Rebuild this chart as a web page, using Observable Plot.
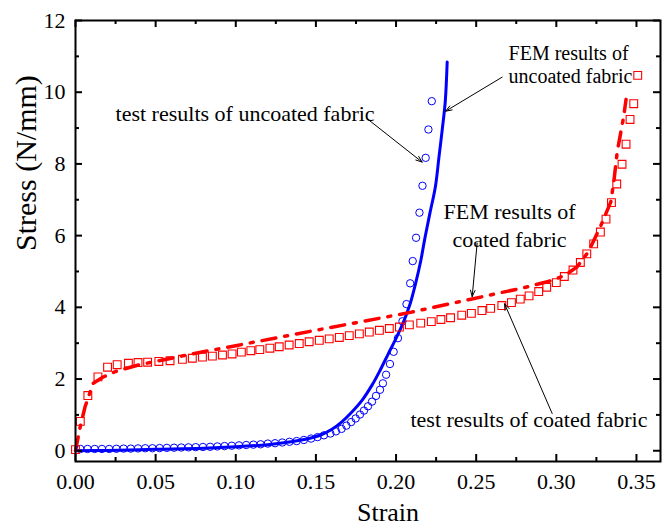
<!DOCTYPE html>
<html>
<head>
<meta charset="utf-8">
<script src="https://cdn.jsdelivr.net/npm/d3@7"></script>
<script src="https://cdn.jsdelivr.net/npm/@observablehq/plot@0.6"></script>
<style>
  html, body { margin: 0; padding: 0; background: #fff; }
  #chart { width: 665px; height: 527px; }
</style>
</head>
<body>
<div id="chart"></div>
<script>
// ---- data ----
const xTicks = [0, 0.05, 0.10, 0.15, 0.20, 0.25, 0.30, 0.35];
const xMinorTicks = [0.025, 0.075, 0.125, 0.175, 0.225, 0.275, 0.325];
const yTicks = [0, 2, 4, 6, 8, 10, 12];
const yMinorTicks = [1, 3, 5, 7, 9, 11];

// test results of uncoated fabric (strain, stress)
const testUncoated = [
  [0.003,0.05],[0.0075,0.05],[0.012,0.05],[0.0165,0.05],[0.021,0.05],[0.0255,0.055],
  [0.030,0.06],[0.0345,0.06],[0.039,0.065],[0.0435,0.07],[0.048,0.07],[0.0525,0.075],
  [0.057,0.08],[0.0615,0.085],[0.066,0.09],[0.0705,0.095],[0.075,0.10],[0.0795,0.105],
  [0.084,0.11],[0.0885,0.12],[0.093,0.13],[0.0975,0.14],[0.102,0.15],[0.1065,0.16],
  [0.111,0.17],[0.1155,0.18],[0.120,0.20],[0.1245,0.21],[0.129,0.23],[0.1335,0.25],
  [0.138,0.27],[0.1425,0.30],[0.147,0.34],[0.151,0.38],[0.155,0.43],[0.159,0.48],
  [0.1625,0.54],[0.166,0.61],[0.169,0.70],[0.172,0.80],[0.1748,0.90],[0.1775,1.01],
  [0.180,1.12],[0.1825,1.24],[0.185,1.37],[0.1875,1.53],[0.190,1.70],[0.1918,1.88],
  [0.1938,2.12],[0.1962,2.42],[0.1985,2.76],[0.2012,3.14],[0.2040,3.61],[0.2065,4.09],
  [0.2088,4.67],[0.2104,5.29],[0.2125,5.94],[0.2146,6.64],[0.2165,7.39],[0.2185,8.17],
  [0.2202,8.96],[0.2223,9.75]
];

// FEM results of uncoated fabric
const femUncoated = [
  [0,0],[0.02,0.01],[0.05,0.04],[0.08,0.07],[0.10,0.11],[0.12,0.17],[0.13,0.22],
  [0.14,0.29],[0.148,0.37],[0.154,0.46],[0.160,0.60],[0.166,0.80],[0.172,1.06],
  [0.179,1.42],[0.185,1.83],[0.190,2.24],[0.195,2.69],[0.2003,3.16],[0.2048,3.61],
  [0.2086,4.07],[0.2121,4.65],[0.2153,5.27],[0.2180,5.93],[0.2211,6.62],[0.2246,7.38],
  [0.2267,8.16],[0.2288,8.95],[0.2307,9.74],[0.2319,10.84]
];

// test results of coated fabric
const testCoated = [
  [0.000,0.03],[0.003,0.82],[0.0077,1.54],[0.014,2.06],[0.020,2.33],[0.026,2.40],
  [0.033,2.44],[0.039,2.46],[0.045,2.47],[0.052,2.49],[0.059,2.51],[0.0667,2.55],
  [0.0729,2.58],[0.0792,2.61],[0.0854,2.64],[0.0917,2.67],[0.0977,2.70],[0.1035,2.75],
  [0.1094,2.79],[0.115,2.82],[0.1213,2.86],[0.1271,2.90],[0.1333,2.95],[0.1396,2.99],
  [0.1458,3.04],[0.1521,3.08],[0.1583,3.12],[0.1646,3.16],[0.1708,3.21],[0.1771,3.26],
  [0.1833,3.31],[0.1896,3.36],[0.1958,3.41],[0.2021,3.45],[0.2083,3.51],[0.2154,3.56],
  [0.222,3.60],[0.228,3.66],[0.234,3.71],[0.241,3.78],[0.247,3.83],[0.2536,3.91],
  [0.259,3.97],[0.266,4.05],[0.272,4.13],[0.2775,4.23],[0.283,4.32],[0.289,4.44],
  [0.294,4.56],[0.300,4.69],[0.305,4.86],[0.3104,5.04],[0.315,5.25],[0.319,5.49],
  [0.3233,5.77],[0.3275,6.10],[0.331,6.46],[0.3344,6.92],[0.3377,7.44],[0.341,7.99],
  [0.3435,8.55],[0.346,9.24],[0.3483,9.68],[0.3508,10.47]
];

// FEM results of coated fabric
const femCoated = [
  [0,0],[0.003,0.68],[0.006,1.23],[0.011,1.88],[0.017,2.05],[0.025,2.21],[0.032,2.30],
  [0.040,2.40],[0.075,2.72],[0.100,2.93],[0.150,3.36],[0.175,3.57],[0.209,3.86],
  [0.246,4.22],[0.280,4.55],[0.295,4.72],[0.305,4.88],[0.313,5.13],[0.320,5.55],
  [0.3275,6.25],[0.334,6.94],[0.336,7.55],[0.338,8.34],[0.342,9.31],[0.3435,9.80]
];

// annotations: text, anchor (strain, stress)
const annotations = [
  {text: "FEM results of\nuncoated fabric", x: 0.2702, y: 10.79, size: 20, lh: 1.17, anchor: "start"},
  {text: "test results of uncoated fabric", x: 0.025, y: 9.44, size: 22, lh: 1.2, anchor: "start"},
  {text: "FEM results of\ncoated fabric", x: 0.2708, y: 6.31, size: 22, lh: 1.27, anchor: "middle"},
  {text: "test results of coated fabric", x: 0.209, y: 0.90, size: 22, lh: 1.2, anchor: "start"}
];
const arrows = [
  {x1: 0.2662, y1: 10.42, x2: 0.2309, y2: 9.47},
  {x1: 0.1820, y1: 9.26, x2: 0.2163, y2: 8.05},
  {x1: 0.2506, y1: 5.79, x2: 0.2475, y2: 4.30},
  {x1: 0.2974, y1: 1.04, x2: 0.2677, y2: 4.10}
];

// ---- layout ----
const W = 665, H = 527;
const mL = 75, mR = 5, mT = 20, mB = 66;
const innerW = W - mL - mR, innerH = H - mT - mB;
const major = 7, minor = 4;

const chart = Plot.plot({
  width: W, height: H,
  marginLeft: mL, marginRight: mR, marginTop: mT, marginBottom: mB,
  x: {domain: [0, 0.365]},
  y: {domain: [-0.3, 12]},
  style: {fontFamily: "'Liberation Serif', 'Times New Roman', serif", fontSize: "22px", background: "#fff", color: "#000"},
  marks: [
    // series
    Plot.line(femUncoated, {x: d => d[0], y: d => d[1], stroke: "#0000ff", strokeWidth: 3, curve: "catmull-rom"}),
    Plot.line(femCoated, {x: d => d[0], y: d => d[1], stroke: "#ff0000", strokeWidth: 3.5, strokeDasharray: "14,9,3,9", curve: "linear"}),
    Plot.dot(testUncoated, {x: d => d[0], y: d => d[1], r: 3.7, stroke: "#0000ff", strokeWidth: 1, fill: "none"}),
    Plot.dot(testCoated, {x: d => d[0], y: d => d[1], symbol: "square", r: 4.4, stroke: "#ff0000", strokeWidth: 1.1, fill: "none"}),
    // annotations
    Plot.arrow(arrows, {x1: "x1", y1: "y1", x2: "x2", y2: "y2", stroke: "#000", strokeWidth: 1, headLength: 10, headAngle: 40}),
    ...annotations.map(a => Plot.text([a], {x: "x", y: "y", text: "text", fontSize: a.size, lineHeight: a.lh, textAnchor: a.anchor, fill: "#000"})),
    // axes tick labels
    Plot.axisX({ticks: xTicks, tickSize: 0, tickPadding: 12, tickFormat: d => d.toFixed(2), label: null, fontSize: 22}),
    Plot.axisY({ticks: yTicks, tickSize: 0, tickPadding: 10, tickFormat: d => String(d), label: null, fontSize: 22}),
    // inward ticks (bottom, top, left, right)
    Plot.tickX(xTicks, {x: d => d, insetTop: innerH - major, stroke: "#000", strokeWidth: 2}),
    Plot.tickX(xMinorTicks, {x: d => d, insetTop: innerH - minor, stroke: "#000", strokeWidth: 2}),
    Plot.tickX(xTicks, {x: d => d, insetBottom: innerH - major, stroke: "#000", strokeWidth: 2}),
    Plot.tickX(xMinorTicks, {x: d => d, insetBottom: innerH - minor, stroke: "#000", strokeWidth: 2}),
    Plot.tickY(yTicks, {y: d => d, insetRight: innerW - major, stroke: "#000", strokeWidth: 2}),
    Plot.tickY(yMinorTicks, {y: d => d, insetRight: innerW - minor, stroke: "#000", strokeWidth: 2}),
    Plot.tickY(yTicks, {y: d => d, insetLeft: innerW - major, stroke: "#000", strokeWidth: 2}),
    Plot.tickY(yMinorTicks, {y: d => d, insetLeft: innerW - minor, stroke: "#000", strokeWidth: 2}),
    Plot.frame({stroke: "#000", strokeWidth: 2}),
    // axis titles
    Plot.text(["Stress (N/mm)"], {frameAnchor: "left", dx: -49, dy: 10, rotate: -90, fontSize: 30, fill: "#000"}),
    Plot.text(["Strain"], {frameAnchor: "bottom", dx: 20, dy: 59, fontSize: 26, fill: "#000"})
  ]
});
document.getElementById("chart").appendChild(chart);
</script>
</body>
</html>
